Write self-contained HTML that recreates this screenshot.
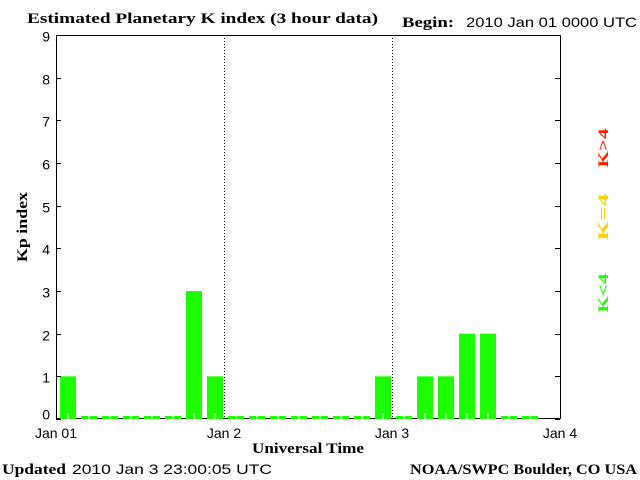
<!DOCTYPE html>
<html><head><meta charset="utf-8"><style>
body{margin:0;background:#fff;}
svg{display:block;}
.ser{font-family:"Liberation Serif",serif;font-weight:bold;font-size:15px;}
.sans{font-family:"Liberation Sans",sans-serif;font-size:14px;}
</style></head><body>
<svg id="chart" width="640" height="480" xmlns="http://www.w3.org/2000/svg">
<text x="27" y="23" class="ser" textLength="351" lengthAdjust="spacingAndGlyphs">Estimated Planetary K index (3 hour data)</text>
<text x="402" y="27" class="ser" textLength="52" lengthAdjust="spacingAndGlyphs">Begin:</text>
<text x="466" y="27" class="sans" textLength="171" lengthAdjust="spacingAndGlyphs">2010 Jan 01 0000 UTC</text>
<rect x="56.5" y="35.5" width="504" height="383" fill="none" stroke="#000"/>
<g id="grid"></g>
<g id="bars"></g>
<g id="yticks"></g>
<g id="xticks"></g>
<text x="27" y="227" class="ser" transform="rotate(-90 27 227)" text-anchor="middle" textLength="70" lengthAdjust="spacingAndGlyphs">Kp index</text>
<text x="308" y="453" class="ser" text-anchor="middle" textLength="112" lengthAdjust="spacingAndGlyphs">Universal Time</text>
<text x="2" y="474" class="ser" textLength="64" lengthAdjust="spacingAndGlyphs">Updated</text>
<text x="72" y="474" class="sans" textLength="200" lengthAdjust="spacingAndGlyphs">2010 Jan  3 23:00:05 UTC</text>
<text x="637" y="474" class="ser" text-anchor="end" textLength="227" lengthAdjust="spacingAndGlyphs">NOAA/SWPC Boulder, CO USA</text>
<text x="608" y="148" class="ser" font-size="20" fill="#ff2000" transform="rotate(-90 608 148)" text-anchor="middle" textLength="39" lengthAdjust="spacingAndGlyphs">K&gt;4</text>
<text x="608" y="217" class="ser" font-size="20" fill="#ffd000" transform="rotate(-90 608 217)" text-anchor="middle" textLength="47" lengthAdjust="spacingAndGlyphs">K=4</text>
<text x="608" y="293" class="ser" font-size="20" fill="#1cff00" transform="rotate(-90 608 293)" text-anchor="middle" textLength="39" lengthAdjust="spacingAndGlyphs">K&lt;4</text>
</svg>
<script>
const kpValues = [1,0,0,0,0,0,3,1, 0,0,0,0,0,0,0,1, 0,1,1,2,2,0,0];
const yTickLabels = ["0","1","2","3","4","5","6","7","8","9"];
const dayLabels = ["Jan 01","Jan 2","Jan 3","Jan 4"];
const NS="http://www.w3.org/2000/svg";
const X0=56,X1=560,Y0=419,Y1=35;
const nBins=24;
const xBin=i=>X0+i*(X1-X0)/nBins;
const y=v=>Y0-v*(Y0-Y1)/9;
function mk(tag,attrs,parent){const e=document.createElementNS(NS,tag);for(const k in attrs)e.setAttribute(k,attrs[k]);parent.appendChild(e);return e;}
const bars=document.getElementById('bars');
kpValues.forEach((v,i)=>{
  const bx=xBin(i)+4, bw=(X1-X0)/nBins-5;
  const top=v===0?Y0-3:y(v);
  const col=v>4?'#ff2000':(v===4?'#ffd000':'#1cff00');
  const r=mk('rect',{x:bx,y:top,width:bw,height:Y0-top,fill:col},bars);
  
  
  const l=mk('rect',{x:bx+bw/2-0.5,y:v===0?Y0-3:Y0-6,width:1,height:v===0?3:6,fill:'#fff'},bars);
  
  
});
const grid=document.getElementById('grid');
[1,2].forEach(d=>{
  const gx=X0+d*(X1-X0)/3+0.5;
  const g=mk('line',{x1:gx,x2:gx,y1:Y1,y2:Y0,stroke:'#000','stroke-dasharray':'1,2'},grid);
  
  
});
const yt=document.getElementById('yticks');
yTickLabels.forEach((t,i)=>{
  const ty=Math.round(y(i))+0.5;
  mk('line',{x1:X0,x2:X0+5,y1:ty,y2:ty,stroke:'#000'},yt);
  mk('line',{x1:X1-5,x2:X1,y1:ty,y2:ty,stroke:'#000'},yt);
  const tx=mk('text',{x:50,y:i===0?ty:ty+6,'text-anchor':'end',class:'sans','font-size':'17'},yt);
  tx.textContent=t;
  
  
});
const xt=document.getElementById('xticks');
dayLabels.forEach((t,i)=>{
  const tx=mk('text',{x:X0+i*(X1-X0)/3,y:438,'text-anchor':'middle',class:'sans','font-size':'15'},xt);
  tx.textContent=t;
  
  
});
</script>
</body></html>
